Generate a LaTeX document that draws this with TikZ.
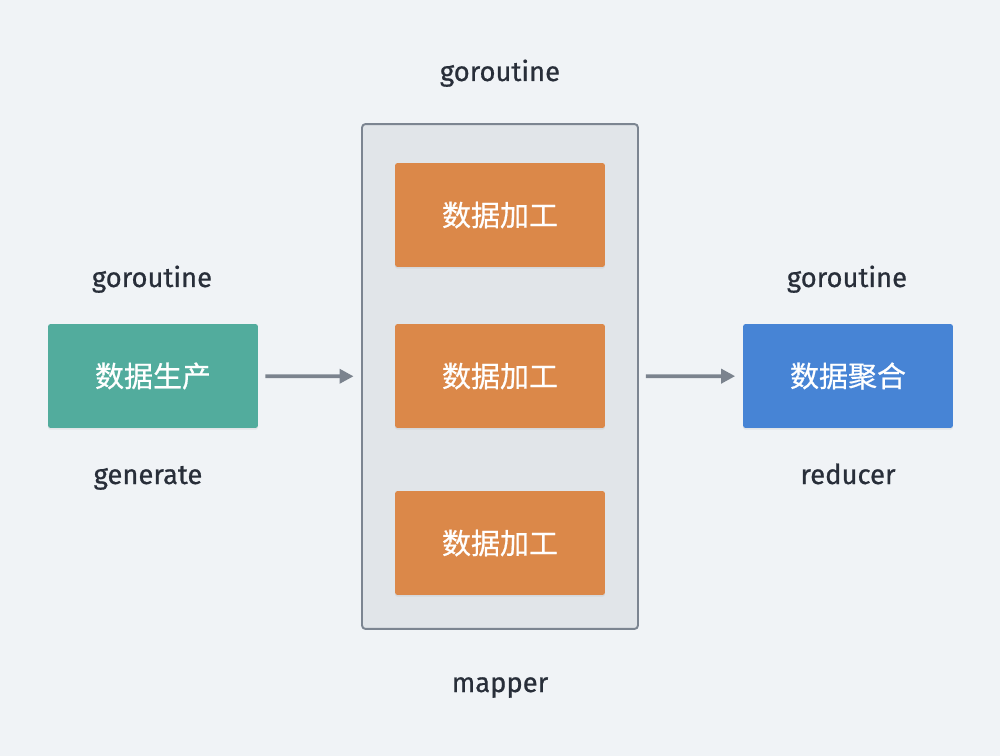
\documentclass[tikz,border=0pt]{standalone}
\usepackage{fontspec}
\setmainfont{Fira Sans}[FakeBold=0.7]
\newfontfamily\cjk{Noto Sans CJK SC}[FakeBold=0.6]
\usepackage{tikz}
\usetikzlibrary{arrows.meta,shadows}

\definecolor{bgcol}{RGB}{240,243,246}
\definecolor{txtcol}{RGB}{40,46,57}
\definecolor{greencol}{RGB}{82,172,157}
\definecolor{orangecol}{RGB}{219,136,73}
\definecolor{bluecol}{RGB}{71,132,213}
\definecolor{groupfill}{RGB}{225,229,233}
\definecolor{groupline}{RGB}{124,133,145}
\definecolor{arrowcol}{RGB}{123,131,142}

\begin{document}
\begin{tikzpicture}[x=0.02cm,y=-0.02cm]

\tikzset{task/.style = {rectangle, rounded corners=1.5pt, minimum width=4.2cm, minimum height=2.08cm,
    text=white, font=\cjk\fontsize{16.5}{18}\selectfont, inner sep=0pt,
    drop shadow={opacity=0.12, shadow xshift=0pt, shadow yshift=-1pt}}}
\tikzset{label/.style = {text=txtcol, font=\fontsize{15.6}{18}\selectfont, inner sep=0pt, anchor=base}}
\tikzset{edge/.style = {-{Triangle[length=8pt,width=8pt]}, draw=arrowcol, line width=2.1pt,
    shorten <=0.14cm, shorten >=0.15cm}}

\fill[bgcol] (0,0) rectangle (1000,756);
\useasboundingbox (0,0) rectangle (1000,756);

%group
\node[rectangle, rounded corners=2pt, draw=groupline, line width=1.1pt, fill=groupfill,
    minimum width=5.52cm, minimum height=10.1cm] (map) at (500,376.5) {};

%boxes
\node[task, fill=greencol] (gen) at (153,376) {数据生产};
\node[task, fill=orangecol] (w1) at (500,215) {数据加工};
\node[task, fill=orangecol] (w2) at (500,376) {数据加工};
\node[task, fill=orangecol] (w3) at (500,543) {数据加工};
\node[task, fill=bluecol] (red) at (848,376) {数据聚合};

%labels
\node[label] (t1) at (500,81) {goroutine};
\node[label] (t2) at (152,287) {goroutine};
\node[label] (t3) at (847,287) {goroutine};
\node[label] (b1) at (148,484) {generate};
\node[label] (b2) at (848,484) {reducer};
\node[label] (b3) at (500,692) {mapper};

%edges
\draw[edge] (gen) to (map);
\draw[edge] (map) to (red);

\end{tikzpicture}
\end{document}
